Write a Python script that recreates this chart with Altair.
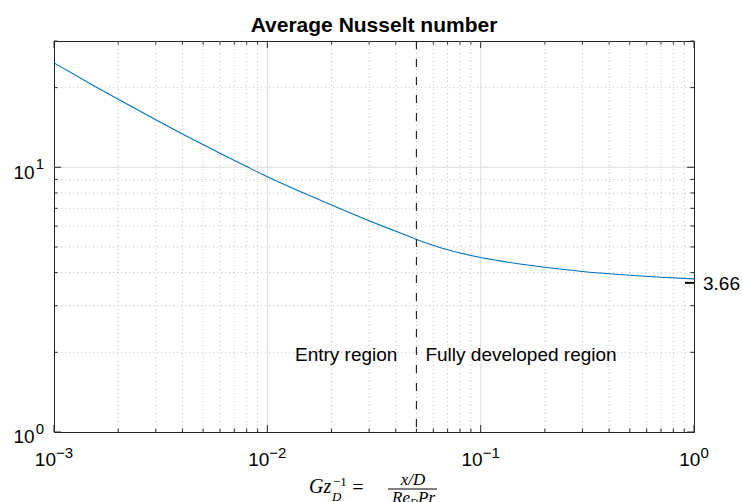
import altair as alt
import pandas as pd

# ---------------- data ----------------
gz_inv = [0.001, 0.0015, 0.002, 0.003, 0.004, 0.006, 0.008, 0.01, 0.015, 0.02,
          0.03, 0.04, 0.05, 0.07, 0.1, 0.15, 0.2, 0.3, 0.5, 0.7, 1.0]
nu_avg = [24.8, 20.56, 18.06, 15.11, 13.37, 11.3, 10.06, 9.21, 7.96, 7.2,
          6.28, 5.73, 5.34, 4.88, 4.56, 4.32, 4.19, 4.04, 3.91, 3.845, 3.79]

x_major_ticks = [0.001, 0.01, 0.1, 1.0]
x_minor_ticks = [0.002, 0.003, 0.004, 0.005, 0.006, 0.007, 0.008, 0.009,
                 0.02, 0.03, 0.04, 0.05, 0.06, 0.07, 0.08, 0.09,
                 0.2, 0.3, 0.4, 0.5, 0.6, 0.7, 0.8, 0.9]
y_major_ticks = [1, 10]
y_minor_ticks = [2, 3, 4, 5, 6, 7, 8, 9, 20, 30]
x_tick_exponents = ["\u22123", "\u22122", "\u22121", "0"]
y_tick_exponents = ["0", "1"]

boundary_x = [0.05]
nu_fully_developed = [3.66]
nu_fd_label = ["3.66"]
region_labels = ["Entry region", "Fully developed region"]
region_label_y = [2, 2]

title_text = ["Average Nusselt number"]
xlabel_parts = ["Gz", "\u22121", "D", "=", "x/D", "Re", "D", "Pr"]

# ---------------- layout / style ----------------
W, H = 640, 391
AX = "#262626"
SANS = "Liberation Sans"
SERIF = "Liberation Serif"
FS, FS_EXP = 19, 15
XS = alt.Scale(type="log", domain=[0.001, 1], nice=False)
YS = alt.Scale(type="log", domain=[1, 30], nice=False)


def X(f="x"):
    return alt.X(f"{f}:Q", scale=XS, axis=None)


def Y(f="y"):
    return alt.Y(f"{f}:Q", scale=YS, axis=None)


def width_of(s, size):
    tab = {"\u2212": 0.584}
    return sum(tab.get(c, 0.556) for c in s) * size


layers = []

# grid lines
layers.append(alt.Chart(pd.DataFrame({"x": x_minor_ticks})).mark_rule(
    color="#c2c2c2", strokeDash=[1, 3], strokeWidth=1).encode(x=X()))
layers.append(alt.Chart(pd.DataFrame({"y": [v for v in y_minor_ticks if v < 30]})).mark_rule(
    color="#c2c2c2", strokeDash=[1, 3], strokeWidth=1).encode(y=Y()))
layers.append(alt.Chart(pd.DataFrame({"x": x_major_ticks[1:-1]})).mark_rule(
    color="#dedede", strokeWidth=1).encode(x=X()))
layers.append(alt.Chart(pd.DataFrame({"y": y_major_ticks[1:]})).mark_rule(
    color="#dedede", strokeWidth=1).encode(y=Y()))

# inward tick marks on all four sides
for vals, ln in [(x_major_ticks, 7), (x_minor_ticks, 3.5)]:
    d = pd.DataFrame({"x": vals})
    layers.append(alt.Chart(d).mark_rule(color=AX, strokeWidth=1).encode(
        x=X(), y=alt.value(H), y2=alt.value(H - ln)))
    layers.append(alt.Chart(d).mark_rule(color=AX, strokeWidth=1).encode(
        x=X(), y=alt.value(0), y2=alt.value(ln)))
for vals, ln in [(y_major_ticks, 7), (y_minor_ticks, 3.5)]:
    d = pd.DataFrame({"y": vals})
    layers.append(alt.Chart(d).mark_rule(color=AX, strokeWidth=1).encode(
        y=Y(), x=alt.value(0), x2=alt.value(ln)))
    layers.append(alt.Chart(d).mark_rule(color=AX, strokeWidth=1).encode(
        y=Y(), x=alt.value(W), x2=alt.value(W - ln)))

# curve
layers.append(alt.Chart(pd.DataFrame({"x": gz_inv, "y": nu_avg})).mark_line(
    color="#0072BD", strokeWidth=1.1, interpolate="monotone").encode(x=X(), y=Y()))

# boundary dashed line
layers.append(alt.Chart(pd.DataFrame({"x": boundary_x})).mark_rule(
    color=AX, strokeDash=[8, 10], strokeWidth=1.2).encode(x=X()))

# 3.66 marker and label
d366 = pd.DataFrame({"y": nu_fully_developed, "t": nu_fd_label})
layers.append(alt.Chart(d366).mark_rule(color="black", strokeWidth=2).encode(
    y=Y(), x=alt.value(W - 9), x2=alt.value(W)))
layers.append(alt.Chart(d366).mark_text(
    align="left", baseline="alphabetic", dx=9, dy=7, font=SANS, fontSize=FS, color="black"
).encode(y=Y(), x=alt.value(W), text="t:N"))

# region labels
dreg = pd.DataFrame({"x": boundary_x * 2, "y": region_label_y, "t": region_labels})
layers.append(alt.Chart(dreg.iloc[[0]]).mark_text(
    align="right", baseline="alphabetic", dx=-19, dy=8.5, font=SANS, fontSize=FS, color="black"
).encode(x=X(), y=Y(), text="t:N"))
layers.append(alt.Chart(dreg.iloc[[1]]).mark_text(
    align="left", baseline="alphabetic", dx=9, dy=8.5, font=SANS, fontSize=FS, color="black"
).encode(x=X(), y=Y(), text="t:N"))

# x tick labels  10^e  (centered as a whole on the tick)
w10 = width_of("10", FS)
for v, e in zip(x_major_ticks, x_tick_exponents):
    we = width_of(e, FS_EXP)
    split = (w10 - we) / 2
    d = pd.DataFrame({"x": [v], "b": ["10"], "e": [e]})
    layers.append(alt.Chart(d).mark_text(
        align="right", baseline="alphabetic", dx=split, font=SANS, fontSize=FS, color="black"
    ).encode(x=X(), y=alt.value(H + 34), text="b:N"))
    layers.append(alt.Chart(d).mark_text(
        align="left", baseline="alphabetic", dx=split, font=SANS, fontSize=FS_EXP, color="black"
    ).encode(x=X(), y=alt.value(H + 25.5), text="e:N"))

# y tick labels (right aligned)
for v, e in zip(y_major_ticks, y_tick_exponents):
    we = width_of(e, FS_EXP)
    d = pd.DataFrame({"y": [v], "b": ["10"], "e": [e]})
    layers.append(alt.Chart(d).mark_text(
        align="right", baseline="alphabetic", dx=-10, dy=2, font=SANS, fontSize=FS_EXP, color="black"
    ).encode(y=Y(), x=alt.value(0), text="e:N"))
    layers.append(alt.Chart(d).mark_text(
        align="right", baseline="alphabetic", dx=-11 - we, dy=11.3, font=SANS, fontSize=FS, color="black"
    ).encode(y=Y(), x=alt.value(0), text="b:N"))

# title
layers.append(alt.Chart(alt.Data(values=[{"t": title_text[0]}])).mark_text(
    align="center", baseline="alphabetic", font=SANS, fontSize=21, fontWeight="bold", color="black"
).encode(x=alt.value(W / 2), y=alt.value(-9.5), text="t:N"))


# x axis label  Gz_D^{-1} = (x/D)/(Re_D Pr)
def part(i, x, y, size, align="left", italic=True):
    return alt.Chart(alt.Data(values=[{"t": xlabel_parts[i]}])).mark_text(
        align=align, baseline="alphabetic", font=SERIF, fontSize=size,
        fontStyle="italic" if italic else "normal", color="black"
    ).encode(x=alt.value(x), y=alt.value(y), text="t:N")


layers += [
    part(0, 255, 452, 20),
    part(1, 279, 445, 13, italic=False),
    part(2, 278, 460, 13),
    part(3, 304, 453, 20, align="center", italic=False),
    part(4, 359, 444, 17, align="center"),
    part(5, 338, 462, 17),
    part(6, 356, 465, 11),
    part(7, 364, 462, 17),
]
layers.append(alt.Chart(alt.Data(values=[{"a": 1}])).mark_rule(
    color="black", strokeWidth=1).encode(x=alt.value(334), x2=alt.value(383), y=alt.value(448)))

chart = alt.layer(*layers).properties(
    width=W, height=H,
    padding={"left": 54, "top": 41, "right": 48, "bottom": 70},
    autosize=alt.AutoSizeParams(type="none"),
).configure_view(stroke=AX, strokeWidth=1)

chart.save("out.html", embed_options={"renderer": "svg", "actions": False})
